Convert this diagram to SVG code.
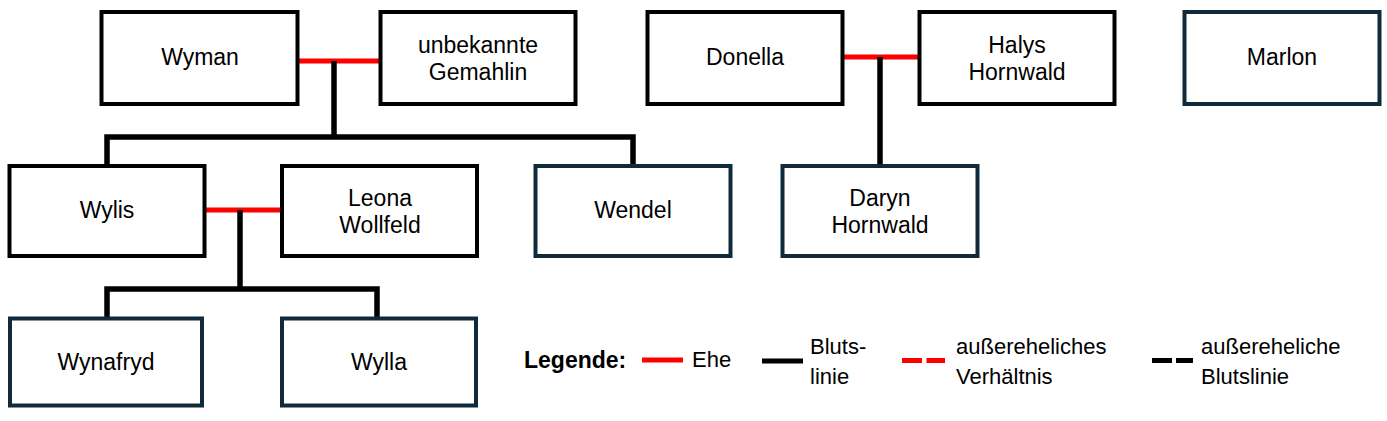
<svg xmlns="http://www.w3.org/2000/svg" width="1387" height="421" viewBox="0 0 1387 421">
<style>
.box{fill:#fff;stroke:#000;stroke-width:4}
.teal{stroke:#0f2a3a}
.t{font-family:"Liberation Sans",Arial,sans-serif;font-size:23px;fill:#000;text-anchor:middle}
.l{font-family:"Liberation Sans",Arial,sans-serif;font-size:22px;fill:#000}
.lb{font-family:"Liberation Sans",Arial,sans-serif;font-size:23px;font-weight:bold;fill:#000}
.ehe{stroke:#ff0000;stroke-width:5;fill:none}
.blut{stroke:#000;stroke-width:5.5;fill:none}
</style>
<rect width="1387" height="421" fill="#fff"/>
<g id="connectors">
<line class="ehe" x1="299" y1="61" x2="380" y2="61"/>
<polyline class="blut" points="334,61 334,137"/>
<polyline class="blut" points="107,165 107,137 633,137 633,165"/>
<line class="ehe" x1="844" y1="57" x2="919" y2="57"/>
<polyline class="blut" points="880,57 880,165"/>
<line class="ehe" x1="206" y1="210" x2="282" y2="210"/>
<polyline class="blut" points="240,210 240,289"/>
<polyline class="blut" points="107,318 107,289 377,289 377,318"/>
</g>
<g id="wyman"><rect class="box" x="101.5" y="12" width="196" height="92"/><text class="t" x="200" y="65">Wyman</text></g>
<g id="gemahlin"><rect class="box" x="380.5" y="12" width="195" height="92"/><text class="t" x="478" y="53">unbekannte</text><text class="t" x="478" y="80">Gemahlin</text></g>
<g id="donella"><rect class="box" x="647.5" y="12" width="195" height="92"/><text class="t" x="745" y="65">Donella</text></g>
<g id="halys"><rect class="box" x="919.5" y="12" width="195" height="92"/><text class="t" x="1017" y="53">Halys</text><text class="t" x="1017" y="80">Hornwald</text></g>
<g id="marlon"><rect class="box teal" x="1184.5" y="12" width="195" height="92"/><text class="t" x="1282" y="65">Marlon</text></g>
<g id="wylis"><rect class="box" x="9.5" y="166" width="195" height="90"/><text class="t" x="107" y="218">Wylis</text></g>
<g id="leona"><rect class="box" x="282" y="166" width="195" height="90"/><text class="t" x="380" y="206">Leona</text><text class="t" x="380" y="233">Wollfeld</text></g>
<g id="wendel"><rect class="box teal" x="535.5" y="166" width="195" height="90"/><text class="t" x="633" y="218">Wendel</text></g>
<g id="daryn"><rect class="box teal" x="782.5" y="166" width="195" height="90"/><text class="t" x="880" y="206">Daryn</text><text class="t" x="880" y="233">Hornwald</text></g>
<g id="wynafryd"><rect class="box teal" x="10" y="318.5" width="192" height="87"/><text class="t" x="106" y="370">Wynafryd</text></g>
<g id="wylla"><rect class="box teal" x="282" y="318.5" width="194" height="87"/><text class="t" x="379" y="370">Wylla</text></g>
<g id="legend">
<text class="lb" x="524" y="368">Legende:</text>
<line class="ehe" x1="642" y1="360" x2="683" y2="360"/>
<text class="l" x="692" y="367">Ehe</text>
<line class="blut" x1="762" y1="361" x2="803" y2="361" style="stroke-width:5"/>
<text class="l" x="810" y="354">Bluts-</text>
<text class="l" x="810" y="384">linie</text>
<line class="ehe" x1="902" y1="360.5" x2="945" y2="360.5" stroke-dasharray="20,4.5"/>
<text class="l" x="956" y="354">außereheliches</text>
<text class="l" x="956" y="384">Verhältnis</text>
<line class="blut" x1="1152" y1="360.5" x2="1193" y2="360.5" stroke-dasharray="20,4" style="stroke-width:5"/>
<text class="l" x="1201" y="354">außereheliche</text>
<text class="l" x="1201" y="384">Blutslinie</text>
</g>
</svg>
